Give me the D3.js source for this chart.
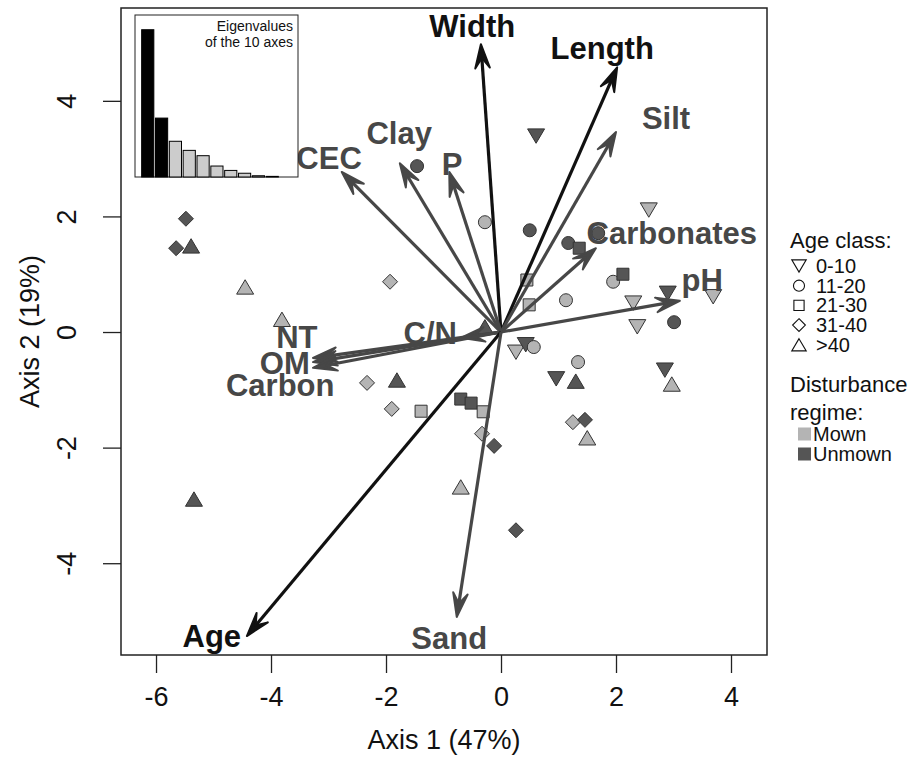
<!DOCTYPE html>
<html><head><meta charset="utf-8">
<script src="https://cdn.jsdelivr.net/npm/d3@7"></script>
<style>body{margin:0;background:#fff} text{font-family:"Liberation Sans",Arial,Helvetica,sans-serif}</style>
</head><body><svg id="c" width="914" height="757"></svg>
<script>
// ---------------- data ----------------
const xTicks = [-6, -4, -2, 0, 2, 4];
const yTicks = [-4, -2, 0, 2, 4];
const ageClasses = ["0-10", "11-20", "21-30", "31-40", ">40"];
const regimes = ["Mown", "Unmown"];
const eigenvalues = [4.70, 1.88, 1.14, 0.85, 0.68, 0.35, 0.21, 0.12, 0.04, 0.02];

// site scores (Axis 1, Axis 2), age class index, regime
const siteX = [-5.48,-5.65,-5.39,-4.45,-3.81,-5.34,-1.93,-2.33,-1.81,-1.90,-1.39,-0.70,-0.52,-0.31,-0.33,-0.12,-0.70,0.26,-0.28,-0.28,-1.46,0.61,0.50,0.45,0.49,1.17,1.36,1.69,2.57,1.95,2.12,2.30,2.90,3.69,2.37,3.01,1.13,0.26,0.43,0.57,1.34,0.96,1.30,2.85,2.97,1.25,1.46,1.50];
const siteY = [1.96,1.45,1.49,0.78,0.22,-2.89,0.87,-0.88,-0.83,-1.33,-1.37,-1.16,-1.23,-1.38,-1.76,-1.97,-2.68,-3.43,0.09,1.90,2.87,3.39,1.76,0.90,0.47,1.54,1.45,1.71,2.11,0.87,1.00,0.50,0.67,0.61,0.09,0.17,0.55,-0.35,-0.22,-0.26,-0.52,-0.81,-0.85,-0.66,-0.90,-1.56,-1.52,-1.83];
const siteAge = [3,3,4,4,4,4,3,3,4,3,2,2,2,2,3,3,4,3,4,1,1,0,1,2,2,1,2,1,0,1,2,0,0,0,0,1,1,0,0,1,1,0,4,0,4,3,3,4];
const siteRegime = [1,1,1,0,0,1,0,0,1,0,0,1,1,0,0,1,0,1,1,0,1,1,1,0,0,1,1,1,0,0,1,0,1,0,0,1,0,0,1,0,0,1,1,1,0,0,1,0];

// variable vectors
const varNames = ["Width","Length","Silt","Carbonates","pH","CEC","Clay","P","C/N","NT","OM","Carbon","Age","Sand"];
const varX = [-0.35, 2.02, 2.00, 1.65, 3.11, -2.77, -1.76, -0.90, -0.70, -3.27, -3.27, -3.27, -4.42, -0.77];
const varY = [4.98, 4.58, 3.46, 1.45, 0.54, 2.77, 2.92, 2.77, -0.10, -0.45, -0.52, -0.62, -5.26, -4.93];
const varLabelX = [-0.50, 1.76, 2.87, 2.97, 3.50, -2.99, -1.77, -0.85, -1.23, -3.55, -3.76, -3.84, -5.03, -0.90];
const varLabelY = [5.28, 4.90, 3.69, 1.70, 0.90, 3.01, 3.43, 2.89, -0.02, -0.09, -0.54, -0.92, -5.26, -5.31];
const varGroup = ["stream","stream","soil","soil","soil","soil","soil","soil","soil","soil","soil","soil","stream","soil"];

// ---------------- drawing ----------------
const svg = d3.select("#c");
const box = {l: 121, r: 767, t: 8, b: 655};
const x = d3.scaleLinear().domain([-6.609, 4.626]).range([box.l, box.r]);
const y = d3.scaleLinear().domain([-5.588, 5.606]).range([box.b, box.t]);

const regimeFill = d3.scaleOrdinal().domain(regimes).range(["#b4b4b4", "#555555"]);
const groupColor = d3.scaleOrdinal().domain(["stream","soil"]).range(["#111111", "#474747"]);
const fmt = d => String(d);

function shapePath(k) {
  switch (k) {
    case 0: return "M-8.5,-7.2L8.5,-7.2L0,7.2Z";
    case 1: { const r = 6.5; return `M${r},0A${r},${r},0,1,1,${-r},0A${r},${r},0,1,1,${r},0Z`; }
    case 2: return "M-6,-6L6,-6L6,6L-6,6Z";
    case 3: return "M0,-7.5L7.5,0L0,7.5L-7.5,0Z";
    default: return "M0,-7.2L8.5,7.2L-8.5,7.2Z";
  }
}

// axes
const gx = svg.append("g").attr("transform", `translate(0,${box.b})`)
  .call(d3.axisBottom(x).tickValues(xTicks).tickSize(18).tickFormat(fmt));
gx.select(".domain").remove();
gx.selectAll(".tick line").attr("stroke", "#222").attr("stroke-width", 1.3);
gx.selectAll(".tick text").attr("y", 42).attr("dy", "0.35em").attr("font-size", 27)
  .attr("fill", "#111").attr("font-family", '"Liberation Sans",Arial,sans-serif');

const gy = svg.append("g").attr("transform", `translate(${box.l},0)`)
  .call(d3.axisLeft(y).tickValues(yTicks).tickSize(18).tickFormat(fmt));
gy.select(".domain").remove();
gy.selectAll(".tick line").attr("stroke", "#222").attr("stroke-width", 1.3);
gy.selectAll(".tick text").attr("x", null).attr("dy", null)
  .attr("transform", "translate(-54,0) rotate(-90)").attr("text-anchor", "middle")
  .attr("dominant-baseline", "central").attr("font-size", 27).attr("fill", "#111")
  .attr("font-family", '"Liberation Sans",Arial,sans-serif');

svg.append("text").attr("x", (box.l + box.r) / 2).attr("y", 740).attr("text-anchor", "middle")
  .attr("dominant-baseline", "central").attr("font-size", 27).attr("fill", "#111").text("Axis 1 (47%)");
svg.append("text").attr("transform", `translate(30,${(box.t + box.b) / 2}) rotate(-90)`)
  .attr("text-anchor", "middle").attr("dominant-baseline", "central").attr("font-size", 27)
  .attr("fill", "#111").text("Axis 2 (19%)");

// points
svg.append("g").selectAll("path").data(d3.range(siteX.length)).join("path")
  .attr("transform", i => `translate(${x(siteX[i])},${y(siteY[i])})`)
  .attr("d", i => shapePath(siteAge[i]))
  .attr("fill", i => regimeFill(regimes[siteRegime[i]]))
  .attr("stroke", "#333").attr("stroke-width", 1);

// arrows
const ag = svg.append("g");
const x0 = x(0), y0 = y(0);
varNames.forEach((name, i) => {
  const tx = x(varX[i]), ty = y(varY[i]);
  const col = groupColor(varGroup[i]);
  const th = Math.atan2(ty - y0, tx - x0);
  const len = 25, a = 17 * Math.PI / 180;
  const bx1 = tx - len * Math.cos(th - a), by1 = ty - len * Math.sin(th - a);
  const bx2 = tx - len * Math.cos(th + a), by2 = ty - len * Math.sin(th + a);
  const nx = tx - 0.55 * len * Math.cos(th), ny = ty - 0.55 * len * Math.sin(th);
  ag.append("line").attr("x1", x0).attr("y1", y0).attr("x2", nx).attr("y2", ny)
    .attr("stroke", col).attr("stroke-width", 3.2);
  ag.append("path").attr("d", `M${tx},${ty}L${bx1},${by1}L${nx},${ny}L${bx2},${by2}Z`)
    .attr("fill", col).attr("stroke", col).attr("stroke-width", 2).attr("stroke-linejoin", "round");
});

// labels
svg.append("g").selectAll("text").data(d3.range(varNames.length)).join("text")
  .attr("x", i => x(varLabelX[i])).attr("y", i => y(varLabelY[i]))
  .attr("text-anchor", "middle").attr("dominant-baseline", "central")
  .attr("font-size", 31).attr("font-weight", "bold")
  .attr("fill", i => groupColor(varGroup[i])).text(i => varNames[i]);

// frame
svg.append("rect").attr("x", box.l).attr("y", box.t).attr("width", box.r - box.l).attr("height", box.b - box.t)
  .attr("fill", "none").attr("stroke", "#222").attr("stroke-width", 1.5);

// inset eigenvalue barplot
const ib = {l: 135, r: 298, t: 15, b: 177};
svg.append("rect").attr("x", ib.l).attr("y", ib.t).attr("width", ib.r - ib.l).attr("height", ib.b - ib.t)
  .attr("fill", "#fff").attr("stroke", "#222").attr("stroke-width", 1);
const bx = d3.scaleBand().domain(d3.range(eigenvalues.length)).range([140, 280]).padding(0.12);
const by = d3.scaleLinear().domain([0, d3.max(eigenvalues) * 1.1]).range([ib.b, ib.t]);
svg.append("g").selectAll("rect").data(eigenvalues).join("rect")
  .attr("x", (d, i) => bx(i)).attr("width", bx.bandwidth())
  .attr("y", d => by(d)).attr("height", d => by(0) - by(d))
  .attr("fill", (d, i) => i < 2 ? "#000" : "#cccccc").attr("stroke", "#000").attr("stroke-width", 1);
svg.append("text").attr("x", 293).attr("y", 31).attr("text-anchor", "end").attr("font-size", 14)
  .attr("fill", "#111").text("Eigenvalues");
svg.append("text").attr("x", 293).attr("y", 47).attr("text-anchor", "end").attr("font-size", 14)
  .attr("fill", "#111").text("of the 10 axes");

// legend
const lg = svg.append("g");
lg.append("text").attr("x", 790).attr("y", 240).attr("dominant-baseline", "central")
  .attr("font-size", 22).attr("fill", "#111").text("Age class:");
ageClasses.forEach((c, k) => {
  const yy = 266 + k * 19.7;
  lg.append("path").attr("transform", `translate(799,${yy}) scale(0.85)`).attr("d", shapePath(k))
    .attr("fill", "none").attr("stroke", "#111").attr("stroke-width", 1.3);
  lg.append("text").attr("x", 816).attr("y", yy).attr("dominant-baseline", "central")
    .attr("font-size", 20).attr("fill", "#111").text(c);
});
lg.append("text").attr("x", 790).attr("y", 384).attr("dominant-baseline", "central")
  .attr("font-size", 22).attr("fill", "#111").text("Disturbance");
lg.append("text").attr("x", 790).attr("y", 412).attr("dominant-baseline", "central")
  .attr("font-size", 22).attr("fill", "#111").text("regime:");
regimes.forEach((r, k) => {
  const yy = 434 + k * 20;
  lg.append("rect").attr("x", 798).attr("y", yy - 6.5).attr("width", 13).attr("height", 13)
    .attr("fill", regimeFill(r));
  lg.append("text").attr("x", 813).attr("y", yy).attr("dominant-baseline", "central")
    .attr("font-size", 20).attr("fill", "#111").text(r);
});
</script></body></html>
